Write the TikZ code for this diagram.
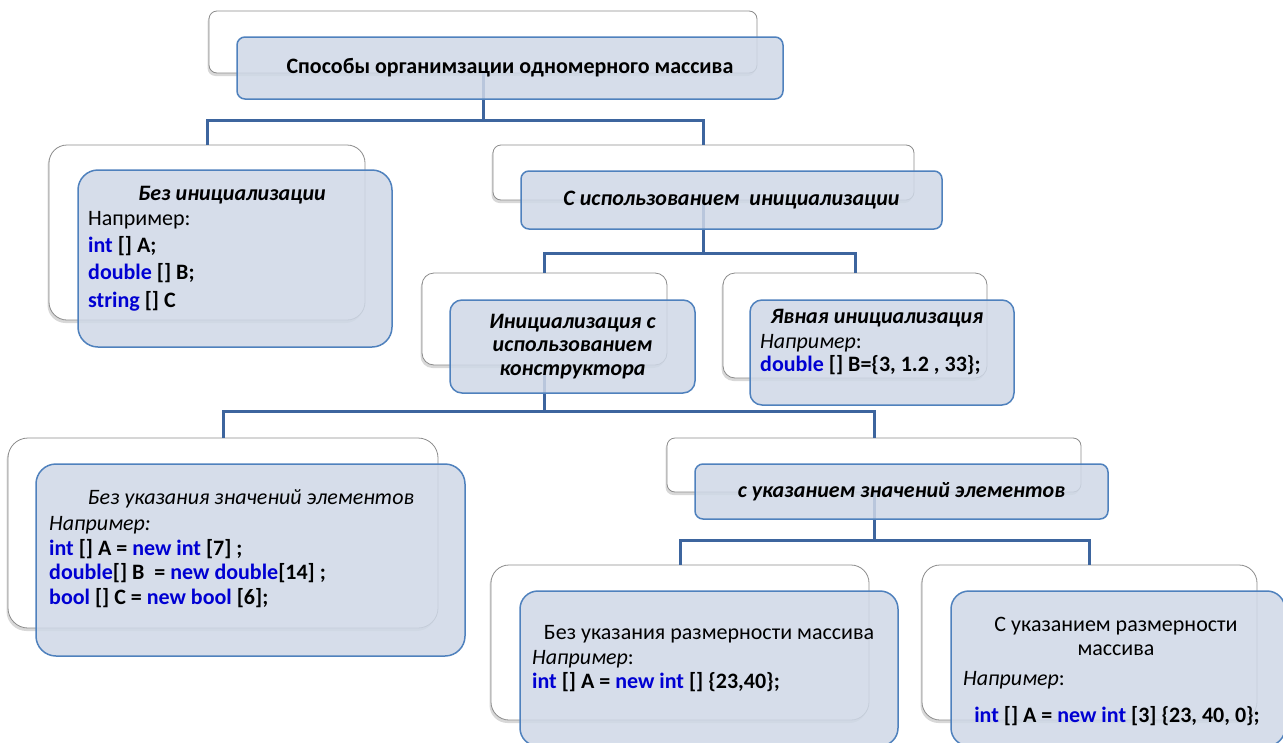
\documentclass[tikz,border=0pt]{standalone}
\usepackage{fontspec}
\setmainfont{Carlito}
\usetikzlibrary{shadows}

\definecolor{frame}{RGB}{79,129,189}
\definecolor{frontfill}{RGB}{207,216,231}
\definecolor{linkblue}{RGB}{61,101,158}
\definecolor{kwblue}{RGB}{0,0,210}
\newcommand{\kw}[1]{\textcolor{kwblue}{\textbf{#1}}}
\newcommand{\code}[1]{\textbf{#1}}
\newcommand{\txtsize}[1]{\fontsize{22}{#1}\selectfont}

\tikzset{
  backbox/.style={draw=black!45, line width=0.8pt, fill=white, rounded corners=#1, inner sep=0pt,
    drop shadow={shadow xshift=-1.5pt, shadow yshift=-3pt, opacity=.3}},
  frontbox/.style={draw=frame, line width=1.5pt, fill=frontfill, fill opacity=.85, text opacity=1,
    rounded corners=#1, inner sep=0pt},
  link/.style={draw=linkblue, line width=3pt},
  body/.style={anchor=north west, align=left, inner sep=0pt},
  title/.style={inner sep=0pt, font=\txtsize{26}\bfseries\itshape}
}

\begin{document}
\begin{tikzpicture}[x=1pt, y=-1pt, font=\txtsize{26}]
\useasboundingbox (0,0) rectangle (1283,742);
\clip (0,0) rectangle (1283,742);
\fill[white] (0,0) rectangle (1283,742);

% white boxes behind
\node[backbox=8, minimum width=548, minimum height=62] (rootB) at (483,42) {};
\node[backbox=18, minimum width=316, minimum height=175] (noinitB) at (207,232.5) {};
\node[backbox=8, minimum width=421, minimum height=55] (initB) at (703.5,172.5) {};
\node[backbox=12, minimum width=245, minimum height=92] (ctorB) at (544.5,319) {};
\node[backbox=12, minimum width=264, minimum height=105] (explB) at (855,325.5) {};
\node[backbox=20, minimum width=430, minimum height=190] (novalB) at (223,533) {};
\node[backbox=8, minimum width=414, minimum height=54] (valB) at (874,465) {};
\node[backbox=18, minimum width=378, minimum height=155] (nodimB) at (680,642.5) {};
\node[backbox=18, minimum width=335, minimum height=155] (dimB) at (1089.5,642.5) {};

% connectors
\draw[link] (rootB.south) -- ++(0,47) -| (noinitB.north);
\draw[link] (rootB.south) -- ++(0,47) -| (initB.north);
\draw[link] (initB.south) -- ++(0,53) -| (ctorB.north);
\draw[link] (initB.south) -- ++(0,53) -| (explB.north);
\draw[link] (ctorB.south) -- ++(0,46) -| (novalB.north);
\draw[link] (ctorB.south) -- ++(0,46) -| (valB.north);
\draw[link] (valB.south) -- ++(0,48) -| (nodimB.north);
\draw[link] (valB.south) -- ++(0,48) -| (dimB.north);

% blue boxes in front
\node[frontbox=8, minimum width=546, minimum height=62, font=\txtsize{26}\bfseries] (root) at (510,68)
  {Способы органимзации одномерного массива};
\node[frontbox=20, minimum width=314, minimum height=177] (noinit) at (235,258.5) {};
\node[frontbox=8, minimum width=421, minimum height=58, font=\txtsize{26}\bfseries\itshape] (init) at (731.5,200)
  {С использованием\ \ инициализации};
\node[frontbox=12, minimum width=245, minimum height=93, align=center,
  font=\txtsize{23.5}\bfseries\itshape] (ctor) at (572.5,346.5)
  {Инициализация с\\ использованием\\ конструктора};
\node[frontbox=12, minimum width=264, minimum height=105] (expl) at (882,352.5) {};
\node[frontbox=20, minimum width=429, minimum height=192] (noval) at (250.5,560) {};
\node[frontbox=8, minimum width=413, minimum height=55, font=\txtsize{26}\bfseries\itshape] (val) at (901.5,491.5)
  {с указанием значений элементов};
\node[frontbox=18, minimum width=378, minimum height=155] (nodim) at (709,668.5) {};
\node[frontbox=18, minimum width=334, minimum height=155] (dim) at (1118,668.5) {};

% texts
\node[title] (noinitT) at (232,195) {Без инициализации};
\node[body, font=\txtsize{27.3}] (noinitC) at (88,211)
  {Например:\\ \kw{int} \code{[] A;}\\ \kw{double} \code{[] B;}\\ \kw{string} \code{[] C}};
\node[title] (explT) at (877,318) {Явная инициализация};
\node[body, font=\txtsize{23}] (explC) at (760,334)
  {\textit{Например}:\\ \kw{double} \code{[] B=\{3, 1.2 , 33\};}};
\node[inner sep=0pt, font=\txtsize{26}\itshape] (novalT) at (251,499) {Без указания значений элементов};
\node[body, font=\txtsize{24.7}] (novalC) at (49,516)
  {\textit{Например:}\\
   \kw{int} \code{[] A =} \kw{new int} \code{[7] ;}\\
   \kw{double}\code{[] B\ \ =} \kw{new double}\code{[14] ;}\\
   \kw{bool} \code{[] C =} \kw{new bool} \code{[6];}};
\node[inner sep=0pt] (nodimT) at (709,634) {Без указания размерности массива};
\node[body, font=\txtsize{24}] (nodimC) at (532,650)
  {\textit{Например}:\\ \kw{int} \code{[] A =} \kw{new int} \code{[] \{23,40\};}};
\node[inner sep=0pt, align=center, font=\txtsize{24}] (dimT) at (1116,636)
  {С указанием размерности\\ массива};
\node[inner sep=0pt, anchor=west] (dimE) at (963,680) {\textit{Например}:};
\node[inner sep=0pt] (dimC) at (1117,716)
  {\kw{int} \code{[] A =} \kw{new int} \code{[3] \{23, 40, 0\};}};
\end{tikzpicture}
\end{document}
